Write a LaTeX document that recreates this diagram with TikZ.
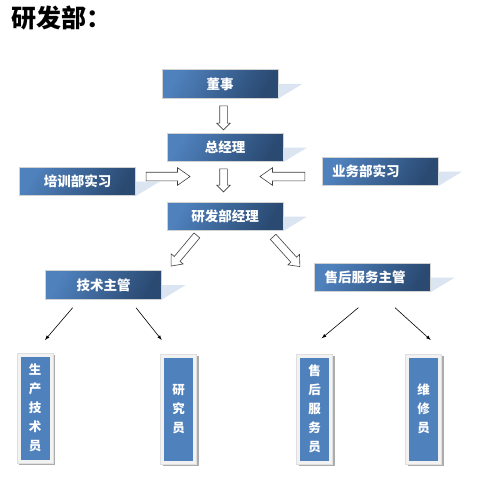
\documentclass[tikz,border=0pt]{standalone}
\usepackage{fontspec}
\setmainfont{Noto Sans CJK SC}
\usetikzlibrary{positioning, arrows, shapes.arrows, shadows}

\definecolor{boxlight}{HTML}{4F81BD}
\definecolor{boxdark}{HTML}{2A4A72}
\definecolor{shadeblue}{HTML}{DBE5F1}
\definecolor{framegray}{HTML}{F2F2F2}

% light blue cast shadow on the right of a role box
\newcommand{\castshadow}[1]{\fill[shadeblue] (#1.east) -- ++(24,0) -- (#1.south east) -- cycle;}

\begin{document}
\begin{tikzpicture}[
        x=1pt, y=-1pt,
        every node/.style={font=\bfseries\fontsize{13.5}{16}\selectfont},
        rolebox/.style={rectangle, draw=gray!35, line width=0.6pt, left color=boxlight, right color=boxdark, shading angle=60, text=white, minimum width=116pt, minimum height=28.5pt, inner sep=0pt},
        leftbox/.style={rolebox, text width=96pt, align=left, inner xsep=10pt},
        staffbox/.style={rectangle, draw=gray!25, line width=0.4pt, fill=framegray, text=white, minimum width=36pt, minimum height=110pt, inner sep=0pt, align=center,
            font=\bfseries\fontsize{12.5}{19}\selectfont,
            drop shadow={shadow xshift=2pt, shadow yshift=-2pt, fill=gray!65, opacity=1},
            path picture={\fill[boxlight] ([shift={(3.5pt,3.5pt)}]path picture bounding box.south west) rectangle ([shift={(-3.5pt,-3.5pt)}]path picture bounding box.north east);}},
        fatarrow/.style={single arrow, draw=black!75, fill=white, line width=0.6pt, inner sep=3.5pt, single arrow head extend=3pt, minimum height=#1},
        sidearrow/.style={fatarrow=#1, inner sep=4pt, single arrow head extend=4.5pt, single arrow tip angle=70},
        diagarrow/.style={fatarrow=#1, single arrow head extend=4pt, single arrow tip angle=80},
        thinarrow/.style={draw, ->, >=latex, line width=0.6pt}
    ]
    \useasboundingbox (0,0) rectangle (486,481);

    % title
    \node[anchor=north west, inner sep=0pt, font=\bfseries\fontsize{25}{28}\selectfont] (title) at (11,6) {研发部：};

    % management
    \node[rolebox] (dongshi) at (220,84) {董事};
    \node[rolebox] (zjl) at (225,147.5) {总经理};
    \node[rolebox] (peixun) at (77.5,181.5) {培训部实习};
    \node[leftbox] (yewu) at (380,171.5) {业务部实习};
    \node[rolebox] (yfjl) at (225,216.5) {研发部经理};
    \node[rolebox] (jszg) at (103.5,285) {技术主管};
    \node[leftbox] (shzg) at (372.5,277.5) {售后服务主管};

    \castshadow{dongshi}
    \castshadow{zjl}
    \castshadow{peixun}
    \castshadow{yewu}
    \castshadow{yfjl}
    \castshadow{jszg}
    \castshadow{shzg}

    % staff
    \node[staffbox] (scjs) at (35,408) {生\\产\\技\\术\\员};
    \node[staffbox] (yjy) at (178.5,409) {研\\究\\员};
    \node[staffbox] (shfw) at (314.5,409) {售\\后\\服\\务\\员};
    \node[staffbox] (wxy) at (423.5,409) {维\\修\\员};

    % hollow arrows
    \node[fatarrow=24pt, rotate=-90] (down1) at (223.5,116) {};
    \node[fatarrow=23pt, rotate=-90] (down2) at (223.5,178.5) {};
    \node[sidearrow=44pt] (fromleft) at (165,176.5) {};
    \node[sidearrow=45pt, rotate=180] (fromright) at (285.5,176.5) {};
    \node[diagarrow=40pt, rotate=-130] (toleft) at (185.5,249) {};
    \node[diagarrow=40pt, rotate=-48] (toright) at (285,250) {};

    % thin arrows
    \coordinate (t1s) at (72.7,307.7);
    \coordinate (t1e) at (45,340);
    \coordinate (t2s) at (136,307.7);
    \coordinate (t2e) at (161.7,340);
    \coordinate (t3s) at (358.3,307.7);
    \coordinate (t3e) at (321.7,338.3);
    \coordinate (t4s) at (395,307.7);
    \coordinate (t4e) at (430.7,340);

    \draw[thinarrow] (t1s) -- (t1e);
    \draw[thinarrow] (t2s) -- (t2e);
    \draw[thinarrow] (t3s) -- (t3e);
    \draw[thinarrow] (t4s) -- (t4e);

\end{tikzpicture}
\end{document}
